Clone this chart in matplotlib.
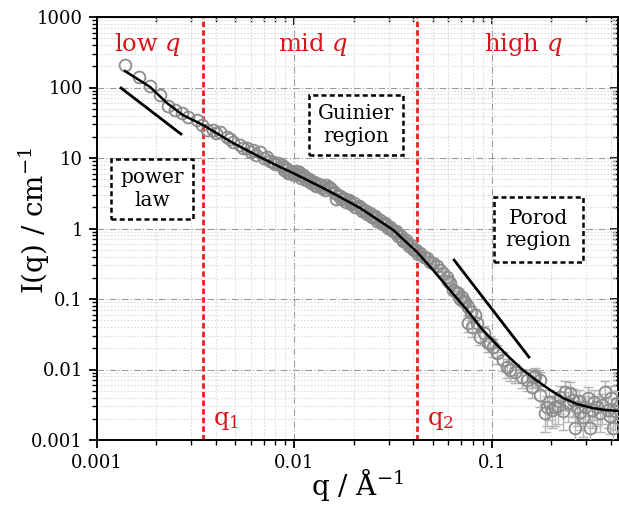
import numpy as np
import matplotlib
matplotlib.use("Agg")
import matplotlib.pyplot as plt
from matplotlib.ticker import LogLocator, FixedLocator, FixedFormatter, NullFormatter

plt.rcParams['font.family'] = ['DejaVu Serif']
plt.rcParams['mathtext.fontset'] = 'dejavuserif'

# ---------------- data ----------------
q_main = [0.001386, 0.001637, 0.001855, 0.002085, 0.002296, 0.002483, 0.002685, 0.002899,
          0.003196, 0.003390, 0.003591, 0.003878, 0.0040, 0.004193, 0.004535, 0.0047, 0.004898,
          0.005297, 0.0055, 0.005728, 0.0060, 0.006185, 0.0064, 0.006683, 0.0070, 0.007223,
          0.0075, 0.007808, 0.0080, 0.008279,
          0.0086, 0.0087, 0.0088, 0.0091, 0.0093, 0.0095, 0.0096, 0.0099, 0.0101, 0.0102,
          0.0105, 0.0107, 0.0108, 0.0111, 0.0113, 0.0114, 0.0118, 0.0120, 0.0121, 0.0125,
          0.0127, 0.0129, 0.0133, 0.0135, 0.0137, 0.0141, 0.0143, 0.0145, 0.0149, 0.0151,
          0.0153, 0.0158, 0.0160, 0.0162, 0.0167, 0.0170, 0.0172, 0.0177, 0.0180, 0.0182,
          0.0188, 0.0191, 0.0194, 0.0200, 0.0203, 0.0206, 0.0212, 0.0216, 0.0219, 0.0226,
          0.0230, 0.0233, 0.0240, 0.0244, 0.0247, 0.0255, 0.0259, 0.0263, 0.0271, 0.0275,
          0.0279, 0.0288, 0.0292, 0.0297, 0.0306, 0.0311, 0.0316, 0.0325, 0.0330, 0.0335,
          0.0345, 0.0350, 0.0356, 0.0367, 0.0372, 0.0378, 0.0390, 0.0396, 0.0402, 0.0414,
          0.0420]
I_main = [208, 142, 105, 78.3, 54.7, 48.0, 43.1, 38.5,
          34.6, 29.4, 24.9, 24.9, 22.5, 23.6, 20.0, 18.5, 17.0,
          15.3, 14.0, 13.7, 12.0, 13.0, 11.0, 12.3, 10.0, 10.4,
          9.0, 8.87, 8.2, 8.41,
          7.9, 7.5, 6.7, 7.2, 6.2, 6.1, 6.6, 5.8, 6.2, 6.6,
          6.3, 5.8, 5.2, 5.8, 5.3, 4.8, 5.1, 4.9, 4.4, 4.6,
          4.1, 4.0, 4.3, 4.15, 3.7, 3.9, 3.5, 4.1, 3.9, 3.7,
          3.6, 3.3, 3.2, 2.6, 3.0, 2.9, 2.6, 2.75, 2.65, 2.4,
          2.5, 2.4, 2.2, 2.3, 2.05, 2.0, 2.1, 1.98, 1.8, 1.85,
          1.76, 1.6, 1.65, 1.5, 1.45, 1.48, 1.42, 1.28, 1.32, 1.2,
          1.15, 1.18, 1.12, 1.02, 1.05, 0.96, 0.92, 0.92, 0.87, 0.78,
          0.79, 0.71, 0.66, 0.68, 0.63, 0.57, 0.58, 0.52, 0.49, 0.50,
          0.44]

q_tail = [0.0431, 0.0450, 0.0469, 0.0485, 0.0503, 0.0525, 0.0545, 0.0565, 0.0592, 0.0600,
          0.0612, 0.0635, 0.0655, 0.0673, 0.0690, 0.0705, 0.0715, 0.0730, 0.0756, 0.0756,
          0.0780, 0.0792, 0.0820, 0.0840, 0.0869, 0.0910, 0.0955, 0.0980, 0.1012, 0.1059,
          0.1137, 0.1191, 0.1233, 0.1306, 0.1418, 0.1503, 0.1595, 0.1614, 0.1650, 0.1750,
          0.1750, 0.1854, 0.1900, 0.1950, 0.2013, 0.2085, 0.2150, 0.2208, 0.2280, 0.2342,
          0.2420, 0.2483, 0.2572, 0.2630, 0.2692, 0.2760, 0.2800, 0.2890, 0.2960, 0.3062,
          0.3133, 0.3200, 0.3300, 0.3401, 0.3524, 0.3600, 0.3734, 0.3866, 0.3950, 0.4000,
          0.4100, 0.4200, 0.4295]
I_tail = [0.449, 0.40, 0.382, 0.34, 0.325, 0.29, 0.258, 0.23, 0.205, 0.18,
          0.169, 0.134, 0.125, 0.122, 0.10, 0.107, 0.095, 0.0906, 0.0771, 0.0457,
          0.065, 0.0401, 0.0593, 0.045, 0.0289, 0.033, 0.0238, 0.024, 0.0209, 0.0171,
          0.0136, 0.0108, 0.0098, 0.0092, 0.0078, 0.0071, 0.0057, 0.0078, 0.0081, 0.0071,
          0.0044, 0.0024, 0.0029, 0.0035, 0.0027, 0.0029, 0.0030, 0.0041, 0.0026, 0.0048,
          0.0033, 0.0046, 0.0037, 0.0015, 0.0029, 0.0036, 0.0025, 0.0021, 0.0029, 0.0039,
          0.0015, 0.0027, 0.0035, 0.0029, 0.0024, 0.0031, 0.0048, 0.0027, 0.0022, 0.0040,
          0.0015, 0.0026, 0.0034]
err_tail = [0.02, 0.02, 0.02, 0.015, 0.015, 0.013, 0.012, 0.011, 0.010, 0.009,
            0.008, 0.007, 0.007, 0.007, 0.006, 0.006, 0.006, 0.006, 0.018, 0.012,
            0.015, 0.011, 0.014, 0.011, 0.007, 0.008, 0.006, 0.006, 0.006, 0.005,
            0.004, 0.0033, 0.003, 0.0028, 0.0024, 0.0022, 0.0018, 0.0024, 0.0025, 0.0022,
            0.0015, 0.0011, 0.0013, 0.0016, 0.0012, 0.0013, 0.0013, 0.0018, 0.0012, 0.0021,
            0.0015, 0.0020, 0.0016, 0.0007, 0.0013, 0.0016, 0.0011, 0.0010, 0.0013, 0.0017,
            0.0007, 0.0012, 0.0016, 0.0013, 0.0011, 0.0014, 0.0021, 0.0012, 0.0010, 0.0018,
            0.0007, 0.0012, 0.0015]

q_fit = [0.001386, 0.001854, 0.00226, 0.00272, 0.00344, 0.00489, 0.00669, 0.00845, 0.00983,
         0.01462, 0.0215, 0.0316, 0.0417, 0.0503, 0.0612, 0.0747, 0.0899, 0.1059, 0.1233,
         0.1435, 0.167, 0.197, 0.229, 0.269, 0.321, 0.373, 0.439]
I_fit = [171, 102, 60.3, 40.7, 29.4, 16.3, 10.3, 7.45, 6.12,
         3.51, 1.95, 0.953, 0.464, 0.258, 0.134, 0.0698, 0.0363, 0.0223, 0.01456,
         0.00984, 0.0071, 0.00512, 0.00394, 0.00324, 0.00285, 0.00267, 0.00258]

q_power = [0.001323, 0.00266]
I_power = [98.4, 21.9]
q_porod = [0.0643, 0.1538]
I_porod = [0.357, 0.01503]

q_boundaries = [0.00344, 0.0417]
boundary_labels = [r'$\mathrm{q}_1$', r'$\mathrm{q}_2$']

region_labels = ['low $q$', 'mid $q$', 'high $q$']
box_labels = ['power\nlaw', 'Guinier\nregion', 'Porod\nregion']

x_ticks = [0.001, 0.01, 0.1]
x_ticklabels = ['0.001', '0.01', '0.1']
y_ticks = [0.001, 0.01, 0.1, 1, 10, 100, 1000]
y_ticklabels = ['0.001', '0.01', '0.1', '1', '10', '100', '1000']

# ---------------- figure ----------------
W, H = 619, 512
fig = plt.figure(figsize=(W / 100, H / 100), dpi=100)
ax = fig.add_axes([97 / W, 72 / H, 521 / W, 423 / H])
ax.set_xscale('log')
ax.set_yscale('log')
ax.set_xlim(0.001, 0.4345)
ax.set_ylim(0.001, 1000)

ax.xaxis.set_major_locator(FixedLocator(x_ticks))
ax.xaxis.set_major_formatter(FixedFormatter(x_ticklabels))
ax.xaxis.set_minor_locator(LogLocator(base=10, subs=np.arange(2, 10), numticks=100))
ax.xaxis.set_minor_formatter(NullFormatter())
ax.yaxis.set_major_locator(FixedLocator(y_ticks))
ax.yaxis.set_major_formatter(FixedFormatter(y_ticklabels))
ax.yaxis.set_minor_locator(LogLocator(base=10, subs=np.arange(2, 10), numticks=100))
ax.yaxis.set_minor_formatter(NullFormatter())

ax.grid(which='major', color='#9a9a9a', linestyle=(0, (6, 2, 1, 2)), linewidth=0.8, zorder=0)
ax.grid(which='minor', color='#dcdcdc', linestyle=(0, (1.5, 1.5)), linewidth=0.8, zorder=0)
ax.set_axisbelow(True)

for s in ax.spines.values():
    s.set_linewidth(1.4)
ax.tick_params(which='major', direction='out', length=6, width=1.3, labelsize=13, pad=4)
ax.tick_params(which='minor', direction='out', length=3.5, width=1.0)

secx = ax.secondary_xaxis('top')
secx.xaxis.set_major_locator(FixedLocator(x_ticks))
secx.xaxis.set_minor_locator(LogLocator(base=10, subs=np.arange(2, 10), numticks=100))
secx.tick_params(which='major', direction='in', length=6, width=1.3, labeltop=False)
secx.tick_params(which='minor', direction='in', length=3.5, width=1.0)
secx.set_xticklabels([])
secy = ax.secondary_yaxis('right')
secy.yaxis.set_major_locator(FixedLocator(y_ticks))
secy.yaxis.set_minor_locator(LogLocator(base=10, subs=np.arange(2, 10), numticks=100))
secy.tick_params(which='major', direction='in', length=6, width=1.3, labelright=False)
secy.tick_params(which='minor', direction='in', length=3.5, width=1.0)
secy.set_yticklabels([])

# boundaries
for qb in q_boundaries:
    ax.axvline(qb, color='#ee1c23', linestyle=(0, (2.0, 1.1)), linewidth=2.0, zorder=2)

# data
ax.errorbar(q_tail, I_tail, yerr=err_tail, fmt='none', ecolor='#b4b4b4',
            elinewidth=1.0, capsize=3.5, capthick=1.0, zorder=3)
ax.plot(q_main, I_main, linestyle='none', marker='o', ms=8.5, mfc='none',
        mec='#8c8c8c', mew=1.3, zorder=4)
ax.plot(q_tail, I_tail, linestyle='none', marker='o', ms=8.5, mfc='none',
        mec='#8c8c8c', mew=1.3, zorder=4)

ax.plot(q_fit, I_fit, color='black', linewidth=1.8, zorder=5)
ax.plot(q_power, I_power, color='black', linewidth=2.0, zorder=5)
ax.plot(q_porod, I_porod, color='black', linewidth=2.0, zorder=5)

# region labels
red = '#d8141a'
for lbl, xf in zip(region_labels, [0.098, 0.4146, 0.8177]):
    ax.text(xf, 0.934, lbl, transform=ax.transAxes, ha='center', va='center',
            fontsize=17.5, color=red)
for lbl, qb in zip(boundary_labels, q_boundaries):
    ax.text(qb * 1.12, 0.047, lbl, transform=ax.get_xaxis_transform(), ha='left',
            va='center', fontsize=17.5, color=red)

# boxes
box_pos = [(0.1056, 0.5934, 0.45), (0.497, 0.7447, 0.45), (0.8474, 0.4976, 0.6)]
for lbl, (xf, yf, pad) in zip(box_labels, box_pos):
    ax.text(xf, yf, lbl, transform=ax.transAxes, ha='center', va='center',
            fontsize=14.4, linespacing=1.25, zorder=6,
            bbox=dict(boxstyle=f'square,pad={pad}', facecolor='white',
                      edgecolor='black', linestyle=(0, (2, 1.3)), linewidth=1.8))

ax.set_xlabel(r'q / Å$^{\mathregular{-1}}$', fontsize=20)
ax.xaxis.set_label_coords(0.5, -0.062)
ax.set_ylabel(r'I(q) / cm$^{\mathregular{-1}}$', fontsize=20)
ax.yaxis.set_label_coords(-0.086, 0.52)

fig.savefig('out.png', dpi=100)
